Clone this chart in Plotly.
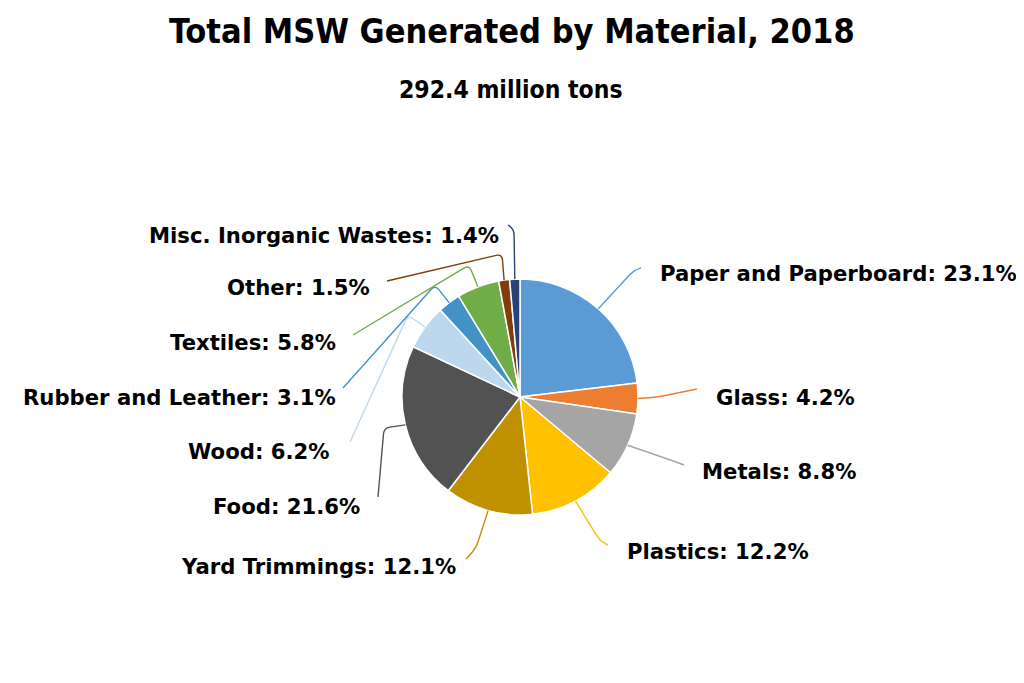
import math
import plotly.graph_objects as go

# ---- data ----
materials = ["Paper and Paperboard", "Glass", "Metals", "Plastics", "Yard Trimmings",
             "Food", "Wood", "Rubber and Leather", "Textiles", "Other",
             "Misc. Inorganic Wastes"]
shares = [23.1, 4.2, 8.8, 12.2, 12.1, 21.6, 6.2, 3.1, 5.8, 1.5, 1.4]
title_text = "Total MSW Generated by Material, 2018"
subtitle_text = "292.4 million tons"

# ---- styles ----
colors = ["#5B9BD5", "#ED7D31", "#A5A5A5", "#FFC000", "#BF9000", "#525252",
          "#BDD7EE", "#4292C6", "#70AD47", "#843C0C", "#264478"]

OFF = 8  # page body margin
W, H = 1024 - OFF, 683 - OFF
CX, CY, R = 520, 397, 118  # pie centre / radius in page pixels (layout)

# label layout: text anchor (px), alignment; leader elbow and end (px)
label_xy = [(658, 274, "left"), (714, 397, "left"), (700, 471, "left"), (625, 551, "left"),
            (458, 566, "right"), (362, 506, "right"), (332, 451, "right"), (338, 397, "right"),
            (338, 342, "right"), (372, 287, "right"), (501, 235, "right")]
elbow_xy = [(634, 270), (658, 397), (679, 463), (600, 541), (476, 548), (384, 428),
            (408, 315), (435, 285), (469, 265), (502, 254), (514, 229)]
end_xy = [(641, 268), (697, 389), (684, 465), (608, 545), (466, 559), (378, 497),
          (350, 442), (343, 388), (353, 335), (387, 281), (508, 225)]


def px(x):
    return (x - OFF) / W


def py(y):
    return 1 - (y - OFF) / H


fig = go.Figure(go.Pie(
    labels=materials, values=shares, sort=False, direction="clockwise", rotation=0,
    marker=dict(colors=colors, line=dict(color="white", width=1.5)),
    textinfo="none", hoverinfo="label+percent", showlegend=False,
    domain=dict(x=[px(CX - R), px(CX + R)], y=[py(CY + R), py(CY - R)]),
))

total = sum(shares)
shapes = []
annotations = []
cum = 0.0


def lerp(a, b, t):
    return (a[0] + (b[0] - a[0]) * t, a[1] + (b[1] - a[1]) * t)


for i, (name, v) in enumerate(zip(materials, shares)):
    mid = (cum + v / 2) / total * 2 * math.pi
    cum += v
    sx = CX + R * math.sin(mid)
    sy = CY - R * math.cos(mid)
    ex, ey = elbow_xy[i]
    tx, ty = end_xy[i]
    d1 = math.hypot(ex - sx, ey - sy)
    d2 = math.hypot(tx - ex, ty - ey)
    rr = 6.0
    p1 = lerp((sx, sy), (ex, ey), max(0.0, 1 - rr / d1) if d1 > 0 else 1)
    p2 = lerp((ex, ey), (tx, ty), min(1.0, rr / d2) if d2 > 0 else 0)
    path = (f"M {px(sx)},{py(sy)} L {px(p1[0])},{py(p1[1])} "
            f"Q {px(ex)},{py(ey)} {px(p2[0])},{py(p2[1])} L {px(tx)},{py(ty)}")
    shapes.append(dict(type="path", xref="paper", yref="paper", path=path,
                       line=dict(color=colors[i], width=1.4)))
    lx, ly, anchor = label_xy[i]
    annotations.append(dict(x=px(lx), y=py(ly), xref="paper", yref="paper",
                            text=f"<b>{name}: {v:.1f}%</b>", showarrow=False,
                            xanchor=anchor, yanchor="middle",
                            font=dict(family="DejaVu Sans", size=21.2, color="#000000")))

title_font = "Liberation Sans Narrow, DejaVu Sans Condensed, Arial Narrow"
annotations.append(dict(x=px(512), y=py(31), xref="paper", yref="paper",
                        text=f"<b>{title_text}</b>", showarrow=False,
                        xanchor="center", yanchor="middle",
                        font=dict(family=title_font, size=34, color="#000000")))
annotations.append(dict(x=px(511), y=py(89), xref="paper", yref="paper",
                        text=f"<b>{subtitle_text}</b>", showarrow=False,
                        xanchor="center", yanchor="middle",
                        font=dict(family=title_font, size=24.5, color="#000000")))

fig.update_layout(
    width=W, height=H, margin=dict(l=0, r=0, t=0, b=0),
    paper_bgcolor="white", plot_bgcolor="white",
    shapes=shapes, annotations=annotations,
)

fig.write_html("out.html")
